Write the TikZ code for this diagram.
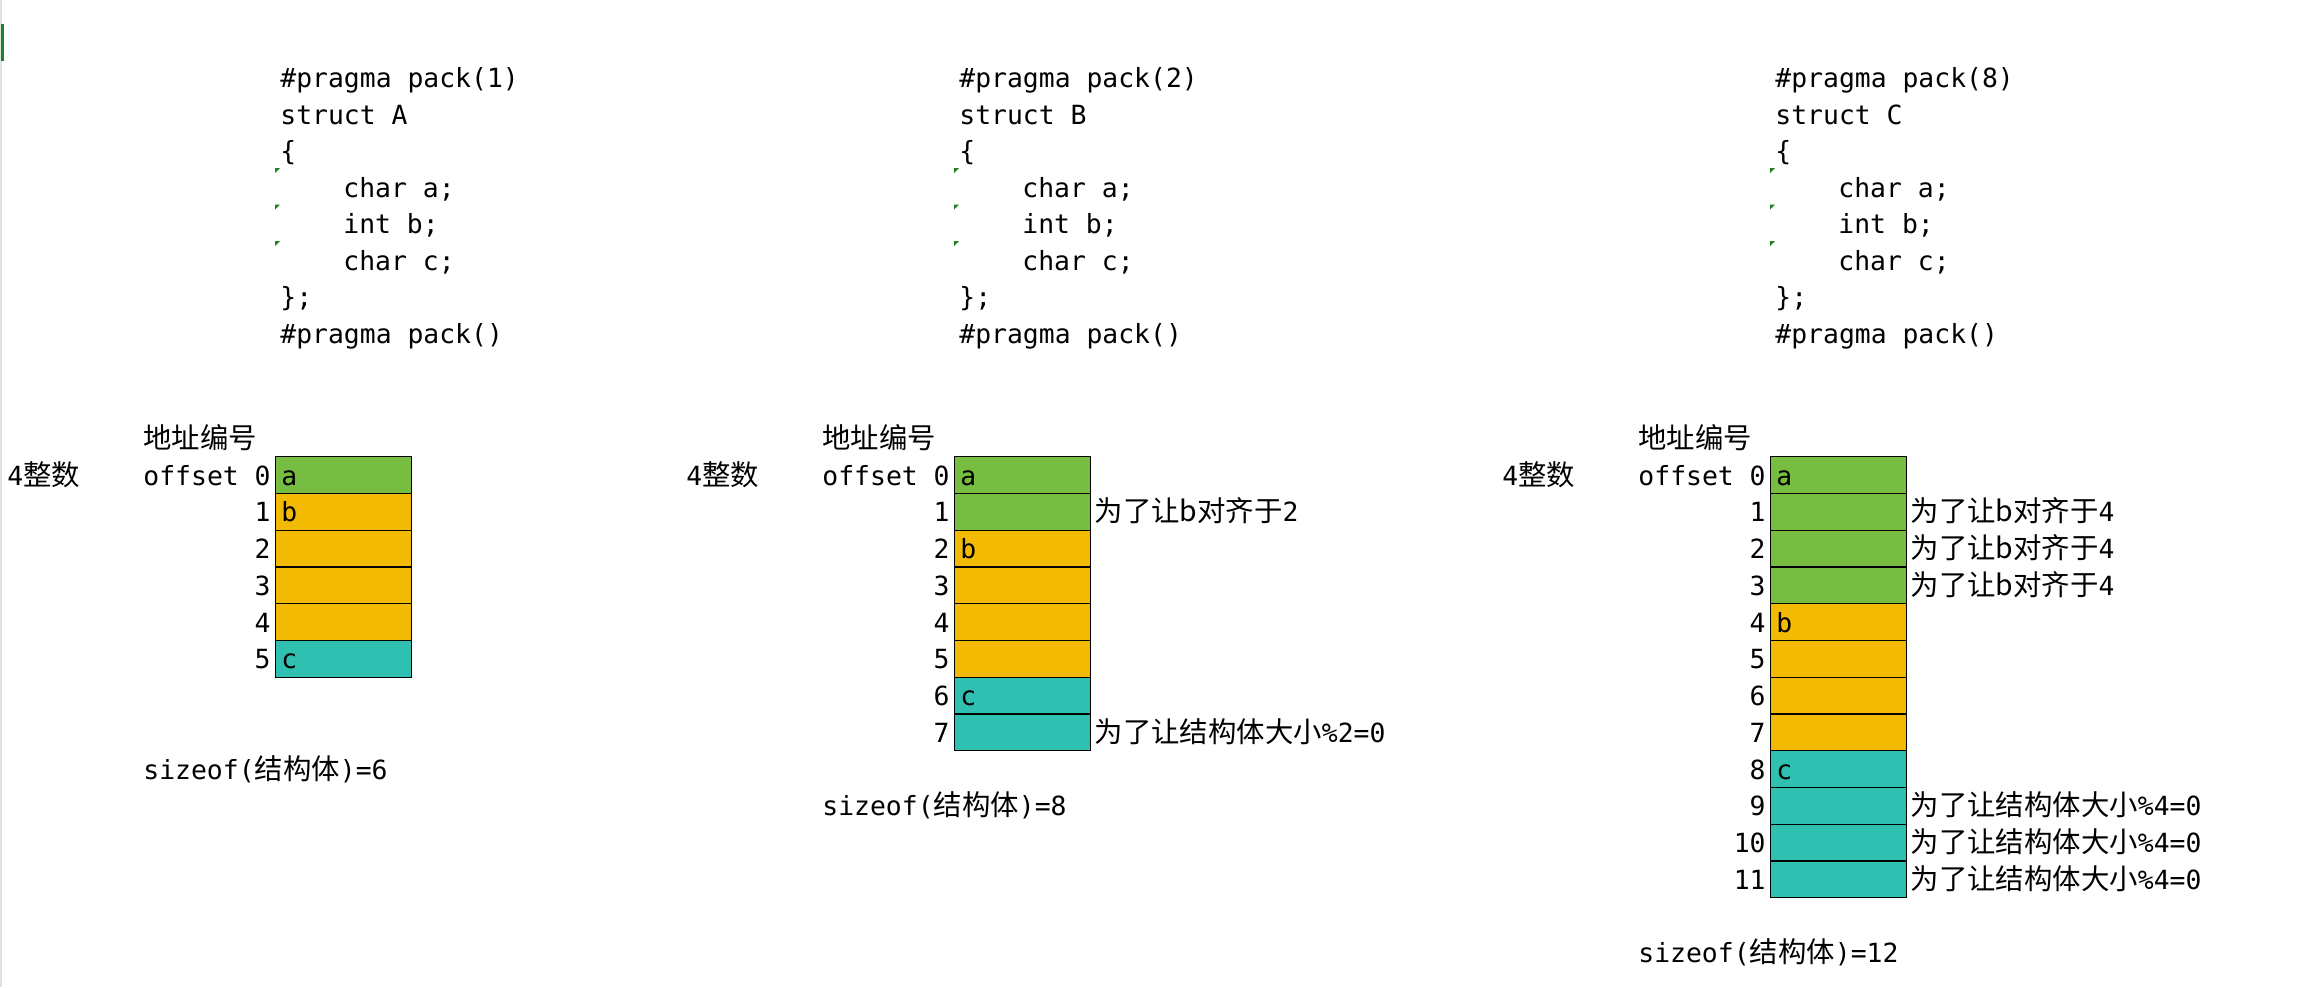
\documentclass[tikz,border=0pt]{standalone}
\usepackage{fontspec}
\newfontfamily\codefont{DejaVu Sans Mono}
\newfontfamily\cjk{Noto Sans CJK SC}
\usetikzlibrary{calc}
\definecolor{cellgreen}{RGB}{118,189,66}
\definecolor{cellgold}{RGB}{242,186,2}
\definecolor{cellteal}{RGB}{48,192,178}
\definecolor{markgreen}{RGB}{34,130,34}
\newcommand{\zh}[1]{{\cjk\fontsize{14.2}{16}\selectfont #1}}

\begin{document}
\begin{tikzpicture}[x=0.5pt,y=-0.5pt,
	every node/.style={inner sep=0pt},
	txt/.style={anchor=base west,font=\codefont\fontsize{13.2}{15}\selectfont},
	num/.style={txt,anchor=base east},
	cell/.style={draw,line width=0.65pt,minimum width=68pt,minimum height=18.375pt,anchor=north west},
	errmark/.style={fill=markgreen}]
	\useasboundingbox (0,0) rectangle (2310,987);
	% sheet edge
	\fill[black!12] (0,0) rectangle (2,987);
	\fill[markgreen] (1,24) rectangle (3.5,61);
	% memory cells
	\foreach \k/\c in {0/cellgreen,1/cellgold,2/cellgold,3/cellgold,4/cellgold,5/cellteal}
		\node[cell,fill=\c] (A\k) at (275,456+36.75*\k) {};
	\foreach \k/\c in {0/cellgreen,1/cellgreen,2/cellgold,3/cellgold,4/cellgold,5/cellgold,6/cellteal,7/cellteal}
		\node[cell,fill=\c] (B\k) at (954,456+36.75*\k) {};
	\foreach \k/\c in {0/cellgreen,1/cellgreen,2/cellgreen,3/cellgreen,4/cellgold,5/cellgold,6/cellgold,7/cellgold,8/cellteal,9/cellteal,10/cellteal,11/cellteal}
		\node[cell,fill=\c] (C\k) at (1770,456+36.75*\k) {};
	% members
	\node[txt] (Aa) at ($(A0.north west)+(6,29)$) {a};
	\node[txt] (Ab) at ($(A1.north west)+(6,29)$) {b};
	\node[txt] (Ac) at ($(A5.north west)+(6,29)$) {c};
	\node[txt] (Ba) at ($(B0.north west)+(6,29)$) {a};
	\node[txt] (Bb) at ($(B2.north west)+(6,29)$) {b};
	\node[txt] (Bc) at ($(B6.north west)+(6,29)$) {c};
	\node[txt] (Ca) at ($(C0.north west)+(6,29)$) {a};
	\node[txt] (Cb) at ($(C4.north west)+(6,29)$) {b};
	\node[txt] (Cc) at ($(C8.north west)+(6,29)$) {c};
	% code, offsets and size of each struct
	\foreach \p/\x/\n/\last/\srow in {A/275/1/5/8,B/954/2/7/9,C/1770/8/11/13}{
		\node[txt] (\p code1) at (\x+5,87.5) {\#pragma pack(\n)};
		\node[txt] (\p code2) at (\x+5,124) {struct \p};
		\node[txt] (\p code3) at (\x+5,160.5) {\{};
		\node[txt] (\p code4) at (\x+68,197) {char a;};
		\node[txt] (\p code5) at (\x+68,233.5) {int b;};
		\node[txt] (\p code6) at (\x+68,270) {char c;};
		\node[txt] (\p code7) at (\x+5,306.5) {\};};
		\node[txt] (\p code8) at (\x+5,343) {\#pragma pack()};
		\foreach \i in {0,1,2}
			\fill[errmark] (\x,168+36.5*\i) -- ++(5,0) -- ++(-5,5) -- cycle;
		\node[txt] (\p head) at (\x-132,448) {\zh{地址编号}};
		\node[txt] (\p int) at (\x-268,485) {4\zh{整数}};
		\node[num] (\p off) at ($(\p0.north west)+(-4,29)$) {offset 0};
		\foreach \k in {1,...,\last}
			\node[num] (\p n\k) at ($(\p\k.north west)+(-4,29)$) {\k};
		\pgfmathtruncatemacro{\sz}{\last+1}
		\node[txt] (\p size) at (\x-132,456+36.75*\srow+29) {sizeof(\zh{结构体})=\sz};
	}
	% padding notes
	\node[txt] (Bnote1) at ($(B1.north east)+(3,29)$) {\zh{为了让b对齐于}2};
	\node[txt] (Bnote7) at ($(B7.north east)+(3,29)$) {\zh{为了让结构体大小}\%2=0};
	\foreach \k in {1,2,3}
		\node[txt] (Cnote\k) at ($(C\k.north east)+(3,29)$) {\zh{为了让b对齐于}4};
	\foreach \k in {9,10,11}
		\node[txt] (Cnote\k) at ($(C\k.north east)+(3,29)$) {\zh{为了让结构体大小}\%4=0};
\end{tikzpicture}
\end{document}
